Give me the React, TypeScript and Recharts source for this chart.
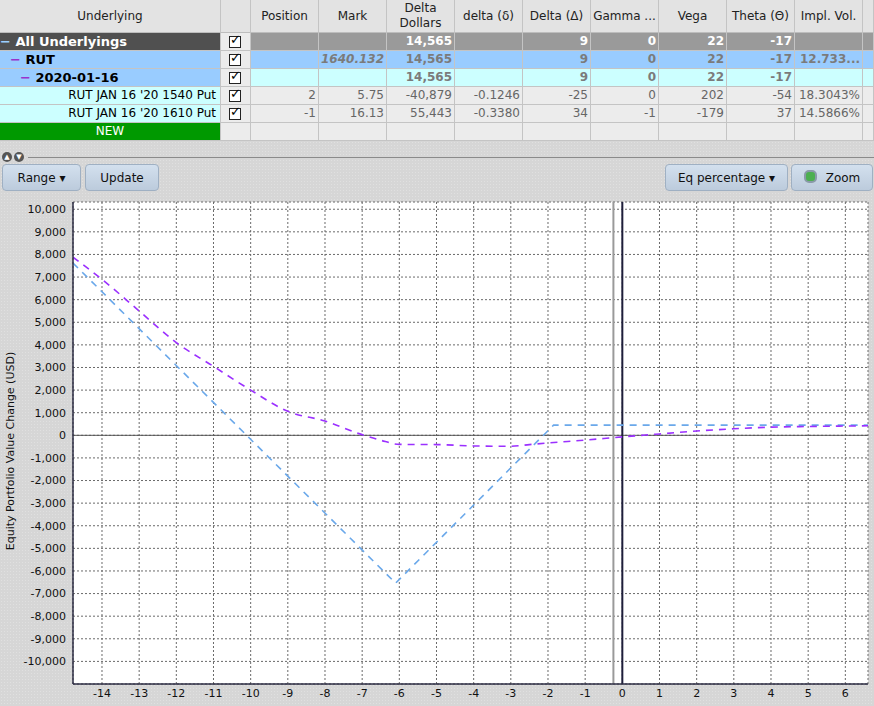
import React from 'react';
import { LineChart, Line, XAxis, YAxis, CartesianGrid, ReferenceLine } from 'recharts';

// ---- chart data ----
const curX = [-14.78, -14, -13, -12, -11, -10, -9, -8, -7, -6.5, -6, -5, -4, -3, -2.5, -2, -1, 0, 1, 2, 3, 4, 5, 6, 6.61];
const curY = [7880, 6900, 5500, 4100, 3050, 2000, 1060, 630, 30, -220, -400, -410, -470, -485, -410, -340, -210, -70, 60, 190, 290, 360, 390, 410, 420];
const expX = [-14.78, -6.1, -1.85, 6.61];
const expY = [7620, -6540, 450, 450];
const xTicks = [-14, -13, -12, -11, -10, -9, -8, -7, -6, -5, -4, -3, -2, -1, 0, 1, 2, 3, 4, 5, 6];
const yTicks = [-10000, -9000, -8000, -7000, -6000, -5000, -4000, -3000, -2000, -1000, 0, 1000, 2000, 3000, 4000, 5000, 6000, 7000, 8000, 9000, 10000];
const spotLineX = -0.24;

// ---- table contents ----
const headers = ['Underlying', '', 'Position', 'Mark', 'Delta\nDollars', 'delta (δ)', 'Delta (Δ)', 'Gamma ...', 'Vega', 'Theta (Θ)', 'Impl. Vol.', ''];
const rowAll = ['', '', '', '', '14,565', '', '9', '0', '22', '-17', '', ''];
const rowRut = ['', '', '', '1640.132', '14,565', '', '9', '0', '22', '-17', '12.733...', ''];
const rowExp = ['', '', '', '', '14,565', '', '9', '0', '22', '-17', '', ''];
const rowP1 = ['RUT JAN 16 \'20 1540 Put', '', '2', '5.75', '-40,879', '-0.1246', '-25', '0', '202', '-54', '18.3043%', ''];
const rowP2 = ['RUT JAN 16 \'20 1610 Put', '', '-1', '16.13', '55,443', '-0.3380', '34', '-1', '-179', '37', '14.5866%', ''];

const curData = curX.map((x, i) => ({ x, y: curY[i] }));
const expData = expX.map((x, i) => ({ x, y: expY[i] }));

const COLS = [0, 221, 251, 319, 387, 455, 523, 591, 659, 727, 795, 863, 874];
const FONT = '"DejaVu Sans", Verdana, sans-serif';
const fmt = (v: number) => v.toLocaleString('en-US');

const Check = () => (
  <div style={{ position: 'absolute', left: 8, top: 2, width: 12, height: 12, fontSize: 13, fontWeight: 700, lineHeight: '12px', color: '#000', fontFamily: FONT, textAlign: 'center' }}>
    <div style={{ position: 'absolute', left: 0, top: 1, width: 10, height: 10, border: '1px solid #222', background: '#fff' }} />
    <span style={{ position: 'absolute', left: 1, top: -1 }}>✓</span>
  </div>
);

type RowSpec = {
  top: number;
  h: number;
  vals: string[];
  bg: string[];
  color: string;
  weight: number;
  italicCol?: number;
  first?: React.ReactNode;
  check?: boolean;
};

const Row = ({ r }: { r: RowSpec }) => (
  <>
    {COLS.slice(0, -1).map((l, i) => {
      const w = COLS[i + 1] - l;
      return (
        <div key={i} style={{ position: 'absolute', left: l, top: r.top, width: w - 1, height: r.h - 1, background: r.bg[i], borderRight: '1px solid #c4c4c4', borderBottom: '1px solid #c4c4c4', overflow: 'hidden' }}>
          {i === 0 && r.first}
          {i === 1 && r.check && <Check />}
          {i > 1 && r.vals[i] && (
            <div style={{ position: 'absolute', right: 2, top: 0, lineHeight: `${r.h - 1}px`, fontSize: 12, fontFamily: FONT, color: r.color, fontWeight: r.weight, fontStyle: r.italicCol === i ? 'italic' : 'normal', whiteSpace: 'nowrap' }}>{r.vals[i]}</div>
          )}
        </div>
      );
    })}
  </>
);

const Button = ({ left, width, children }: { left: number; width: number; children: React.ReactNode }) => (
  <div style={{ position: 'absolute', left, top: 164, width: width - 2, height: 25, borderRadius: 4, border: '1px solid #9fb0c3', background: 'linear-gradient(#d3e0ee, #bccbdc)', fontFamily: FONT, fontSize: 12, color: '#111', display: 'flex', alignItems: 'center', justifyContent: 'center', whiteSpace: 'nowrap' }}>{children}</div>
);

const YLabel = (props: any) => {
  const vb = props.viewBox || {};
  const cx = 10;
  const cy = (vb.y ?? 5) + (vb.height ?? 482) / 2 + 8;
  return (
    <text x={cx} y={cy} transform={`rotate(-90 ${cx} ${cy})`} textAnchor="middle" dominantBaseline="central" fontSize={11} fontFamily={FONT} fill="#111">Equity Portfolio Value Change (USD)</text>
  );
};

export default function App() {
  const rows: RowSpec[] = [
    {
      top: 33, h: 18, vals: rowAll, color: '#fff', weight: 700, check: true,
      bg: ['#505050', '#ececec', '#9a9a9a', '#9a9a9a', '#9a9a9a', '#9a9a9a', '#9a9a9a', '#9a9a9a', '#9a9a9a', '#9a9a9a', '#9a9a9a', '#9a9a9a'],
      first: (
        <div style={{ position: 'absolute', left: 0, top: 0, lineHeight: '17px', fontFamily: FONT, fontSize: 13, fontWeight: 700, color: '#fff', whiteSpace: 'nowrap' }}>
          <span style={{ color: '#9ccfff' }}>−</span> All Underlyings
        </div>
      ),
    },
    {
      top: 51, h: 18, vals: rowRut, color: '#7b7b7b', weight: 700, italicCol: 3, check: true,
      bg: ['#99ccff', '#ececec', '#99ccff', '#99ccff', '#99ccff', '#99ccff', '#99ccff', '#99ccff', '#99ccff', '#99ccff', '#99ccff', '#99ccff'],
      first: (
        <div style={{ position: 'absolute', left: 10, top: 0, lineHeight: '17px', fontFamily: FONT, fontSize: 13, fontWeight: 700, color: '#000', whiteSpace: 'nowrap' }}>
          <span style={{ color: '#9933cc' }}>−</span> RUT
        </div>
      ),
    },
    {
      top: 69, h: 18, vals: rowExp, color: '#7b7b7b', weight: 700, check: true,
      bg: ['#99ccff', '#ececec', '#ccffff', '#ccffff', '#ccffff', '#ccffff', '#ccffff', '#ccffff', '#ccffff', '#ccffff', '#ccffff', '#ccffff'],
      first: (
        <div style={{ position: 'absolute', left: 20, top: 0, lineHeight: '17px', fontFamily: FONT, fontSize: 13, fontWeight: 700, color: '#000', whiteSpace: 'nowrap' }}>
          <span style={{ color: '#9933cc' }}>−</span> 2020-01-16
        </div>
      ),
    },
    {
      top: 87, h: 18, vals: rowP1, color: '#666', weight: 400, check: true,
      bg: ['#ccffff', '#ececec', '#ececec', '#ececec', '#ececec', '#ececec', '#ececec', '#ececec', '#ececec', '#ececec', '#ececec', '#ececec'],
      first: (
        <div style={{ position: 'absolute', right: 4, top: 0, lineHeight: '17px', fontFamily: FONT, fontSize: 12, color: '#000', whiteSpace: 'nowrap' }}>{rowP1[0]}</div>
      ),
    },
    {
      top: 105, h: 18, vals: rowP2, color: '#666', weight: 400, check: true,
      bg: ['#ccffff', '#ececec', '#ececec', '#ececec', '#ececec', '#ececec', '#ececec', '#ececec', '#ececec', '#ececec', '#ececec', '#ececec'],
      first: (
        <div style={{ position: 'absolute', right: 4, top: 0, lineHeight: '17px', fontFamily: FONT, fontSize: 12, color: '#000', whiteSpace: 'nowrap' }}>{rowP2[0]}</div>
      ),
    },
    {
      top: 123, h: 18, vals: ['', '', '', '', '', '', '', '', '', '', '', ''], color: '#666', weight: 400,
      bg: ['#009900', '#ececec', '#ececec', '#ececec', '#ececec', '#ececec', '#ececec', '#ececec', '#ececec', '#ececec', '#ececec', '#ececec'],
      first: (
        <div style={{ position: 'absolute', left: 0, width: 220, top: 0, lineHeight: '17px', fontFamily: FONT, fontSize: 12, color: '#fff', textAlign: 'center' }}>NEW</div>
      ),
    },
  ];

  return (
    <div style={{ position: 'absolute', left: 0, top: 0, width: 874, height: 706, overflow: 'hidden', backgroundColor: '#d6d6d6', backgroundImage: 'radial-gradient(#e0e0e0 0.8px, transparent 0.8px)', backgroundSize: '3px 3px', fontFamily: FONT }}>
      {/* header */}
      {COLS.slice(0, -1).map((l, i) => (
        <div key={i} style={{ position: 'absolute', left: l, top: 0, width: COLS[i + 1] - l - 1, height: 32, background: '#e3e3e3', borderRight: '1px solid #c4c4c4', borderBottom: '1px solid #bdbdbd', display: 'flex', alignItems: 'center', justifyContent: 'center', textAlign: 'center', fontSize: 12, color: '#222', whiteSpace: 'pre', lineHeight: '15px' }}>
          {headers[i]}
        </div>
      ))}
      {rows.map((r, i) => <Row key={i} r={r} />)}

      {/* divider with arrows */}
      <div style={{ position: 'absolute', left: 2, top: 152, width: 10, height: 10, borderRadius: 5, background: '#555', color: '#fff', fontSize: 7, lineHeight: '10px', textAlign: 'center' }}>▲</div>
      <div style={{ position: 'absolute', left: 14, top: 152, width: 10, height: 10, borderRadius: 5, background: '#555', color: '#fff', fontSize: 7, lineHeight: '11px', textAlign: 'center' }}>▼</div>
      <div style={{ position: 'absolute', left: 28, top: 157, width: 846, height: 1, background: '#8a8a8a' }} />

      <Button left={2} width={79}>Range ▾</Button>
      <Button left={85} width={74}>Update</Button>
      <Button left={665} width={123}>Eq percentage ▾</Button>
      <Button left={791} width={82}>
        <span style={{ display: 'inline-block', width: 9, height: 9, borderRadius: 5, border: '2px solid #8a9aa8', background: '#4caf50', marginRight: 9, position: 'relative', top: -1 }} />Zoom
      </Button>

      <div style={{ position: 'absolute', left: 0, top: 197 }}>
        <LineChart width={874} height={509} margin={{ top: 5, right: 6, bottom: 0, left: 0 }}>
          <CartesianGrid fill="#ffffff" stroke="#6a6a6a" strokeDasharray="2 2" />
          <XAxis
            dataKey="x"
            type="number"
            domain={[-14.78, 6.61]}
            ticks={xTicks}
            allowDataOverflow
            height={22}
            tickLine={false}
            tickSize={3}
            tickMargin={2}
            axisLine={{ stroke: '#2e2e44', strokeWidth: 1.5 }}
            tick={{ fontSize: 11, fill: '#111', fontFamily: FONT }}
            interval={0}
          />
          <YAxis
            dataKey="y"
            type="number"
            domain={[-11000, 10320]}
            ticks={yTicks}
            allowDataOverflow
            width={73}
            tickLine={false}
            tickSize={4}
            tickMargin={3}
            axisLine={{ stroke: '#2e2e44', strokeWidth: 1.5 }}
            tick={{ fontSize: 11, fill: '#111', fontFamily: FONT }}
            tickFormatter={fmt}
            interval={0}
            label={<YLabel />}
          />
          <ReferenceLine y={0} stroke="#555" strokeWidth={1} />
          <ReferenceLine x={spotLineX} stroke="#9a9a9a" strokeWidth={2} />
          <ReferenceLine x={0} stroke="#1e1e3a" strokeWidth={2} />
          <Line data={expData} dataKey="y" type="linear" stroke="#6aa8ea" strokeWidth={1.6} strokeDasharray="7 6" dot={false} isAnimationActive={false} />
          <Line data={curData} dataKey="y" type="monotone" stroke="#9b30ff" strokeWidth={1.6} strokeDasharray="7 6" dot={false} isAnimationActive={false} />
        </LineChart>
      </div>
    </div>
  );
}
